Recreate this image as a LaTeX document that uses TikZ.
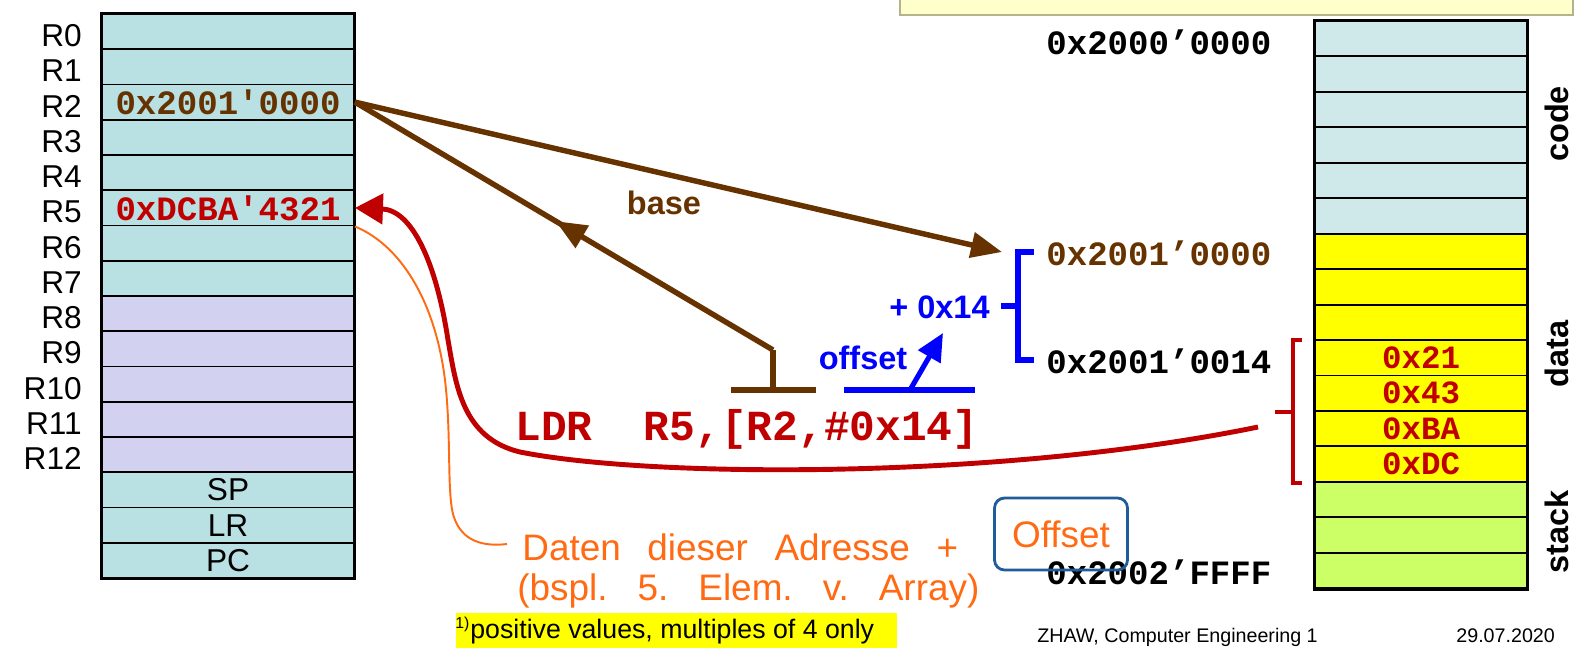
\documentclass[tikz,border=0pt]{standalone}
\usepackage{fontspec}
\setmainfont{Liberation Sans}
\setmonofont{Liberation Mono}
\newfontfamily\penfont{Liberation Sans}[WordSpace=2.6]
\usepackage{tikz}
\usetikzlibrary{positioning}
\usetikzlibrary{calc}
\usetikzlibrary{arrows.meta}
\usetikzlibrary{decorations.markings}

\definecolor{regcyan}{HTML}{B9E0E3}
\definecolor{reglila}{HTML}{D2D2F0}
\definecolor{memcode}{HTML}{CFE8E9}
\definecolor{memdata}{HTML}{FFFF00}
\definecolor{memstack}{HTML}{CCFF66}
\definecolor{basebrown}{HTML}{663300}
\definecolor{ldrred}{HTML}{C00000}
\definecolor{offblue}{HTML}{0000FF}
\definecolor{penorange}{HTML}{FF6A13}
\definecolor{penblue}{HTML}{1F5C99}
\definecolor{notefill}{HTML}{FFFFCC}
\definecolor{noteline}{HTML}{B4B48C}

\begin{document}
\begin{tikzpicture}[x=0.02cm, y=-0.02cm,
    regcell/.style={draw, line width=1.1pt, minimum width=5.04cm, minimum height=0.705cm, inner sep=0pt, font=\fontsize{18}{20}\selectfont},
    memcell/.style={draw, line width=1.1pt, minimum width=4.24cm, minimum height=0.709cm, inner sep=0pt},
    reglabel/.style={anchor=east, inner sep=0pt, font=\fontsize{18}{20}\selectfont},
    hexval/.style={inner sep=0pt, font=\ttfamily\bfseries\fontsize{19.4}{20}\selectfont},
    memval/.style={inner sep=0pt, text=ldrred, font=\ttfamily\bfseries\fontsize{18.5}{20}\selectfont},
    addr/.style={anchor=west, inner sep=0pt, font=\ttfamily\bfseries\fontsize{19.4}{20}\selectfont},
    seglabel/.style={rotate=90, inner sep=0pt, font=\bfseries\fontsize{18.5}{20}\selectfont},
    tag/.style={inner sep=0pt, font=\bfseries\fontsize{18.5}{20}\selectfont},
    brownline/.style={draw=basebrown, line width=3.1pt},
    basearrow/.style={brownline, -{Triangle[length=0.62cm, width=0.5cm]}},
    midarrow/.style={postaction={decorate}, decoration={markings,
        mark=at position 0.52 with {\arrow{Triangle[length=0.62cm, width=0.5cm]}}}},
    bluepen/.style={draw=offblue, line width=2.9pt},
    redpen/.style={draw=ldrred, line width=2.8pt},
    pen/.style={inner sep=0pt, text=penorange, font=\penfont\fontsize{21}{24}\selectfont}
]
    \useasboundingbox (0,0) rectangle (1577,648);

    % note box at the top
    \draw[fill=notefill, draw=noteline, line width=1.1pt] (900,-30) rectangle (1573,15);

    % register file
    \foreach \i in {0,...,7}
        \node[regcell, fill=regcyan] (reg\i) at (228,{14+35.25*(\i+0.5)}) {};
    \foreach \i in {8,...,12}
        \node[regcell, fill=reglila] (reg\i) at (228,{14+35.25*(\i+0.5)}) {};
    \foreach \i/\name in {13/SP,14/LR,15/PC}
        \node[regcell, fill=regcyan] (reg\i) at (228,{14+35.25*(\i+0.5)}) {\name};
    \draw[line width=1.7pt] (reg0.north west) rectangle (reg15.south east);
    \foreach \i in {0,...,12}
        \node[reglabel] (lbl\i) at ($(reg\i.west)+(-19,4)$) {R\i};

    \node[hexval, text=basebrown] (r2val) at (reg2) {0x2001'0000};
    \node[hexval, text=ldrred] (r5val) at (reg5) {0xDCBA'4321};

    % memory
    \foreach \i in {0,...,5}
        \node[memcell, fill=memcode] (mem\i) at (1421,{21+35.45*(\i+0.5)}) {};
    \foreach \i in {6,...,12}
        \node[memcell, fill=memdata] (mem\i) at (1421,{21+35.45*(\i+0.5)}) {};
    \foreach \i in {13,14,15}
        \node[memcell, fill=memstack] (mem\i) at (1421,{21+35.45*(\i+0.5)}) {};
    \draw[line width=1.7pt] (mem0.north west) rectangle (mem15.south east);
    \foreach \i/\v in {9/0x21,10/0x43,11/0xBA,12/0xDC}
        \node[memval] (val\i) at (mem\i) {\v};

    \node[seglabel] (lcode) at (1557,124) {code};
    \node[seglabel] (ldata) at (1557,354) {data};
    \node[seglabel] (lstack) at (1557,532) {stack};

    \node[addr] (a0) at (1046,42) {0x2000’0000};
    \node[addr, text=basebrown] (a1) at (1046,253) {0x2001’0000};
    \node[addr] (a2) at (1046,361) {0x2001’0014};
    \node[addr] (a3) at (1046,572) {0x2002’FFFF};

    % instruction
    \node[anchor=base west, inner sep=0pt, text=ldrred, font=\ttfamily\bfseries\fontsize{24.4}{26}\selectfont] (ldr) at (515,440) {LDR\ \ R5,[R2,\#0x14]};

    % base
    \coordinate (basetip) at (1002,252);
    \coordinate (tstem) at (773,350);
    \coordinate (tfoot) at (773,390);
    \coordinate (tleft) at (731,390);
    \coordinate (tright) at (816,390);
    \draw[basearrow] (reg2.east) -- (basetip);
    \draw[brownline, midarrow] (tstem) -- (reg2.east);
    \draw[brownline] (tleft) -- (tright) (tfoot) -- (tstem);
    \node[tag, text=basebrown] (lbase) at (664,203) {base};

    % offset
    \coordinate (oleft) at (844,390);
    \coordinate (oright) at (975,390);
    \coordinate (ofoot) at (910,390);
    \coordinate (otip) at (943,333);
    \draw[bluepen] (oleft) -- (oright);
    \draw[bluepen, -{Triangle[length=0.55cm, width=0.5cm]}] (ofoot) -- (otip);
    \node[tag, text=offblue] (loffset) at (863,358) {offset};
    \node[tag, text=offblue, anchor=east] (lplus) at (990,307) {+ 0x14};
    \draw[bluepen] (1034,252) -- (1018,252) -- (1018,360) -- (1034,360) (1018,306) -- (1001,306);

    % loaded word
    \draw[redpen] (1302,340) -- (1293,340) -- (1293,483) -- (1302,483) (1293,412) -- (1275,412);
    \coordinate (wordend) at (1258,427);
    \draw[redpen, -{Triangle[length=0.56cm, width=0.6cm]}] (wordend) .. controls (1000,480) and (650,478) .. (520,452)
        .. controls (462,438) and (456,385) .. (448,340) .. controls (436,262) and (412,210) .. (reg5.east);

    % hand-written note
    \coordinate (penend) at (507,544);
    \draw[penorange, line width=1.1pt] (reg5.south east) .. controls (400,245) and (435,300) .. (445,380)
        .. controls (452,440) and (446,500) .. (455,520) .. controls (465,545) and (490,546) .. (penend);
    \node[pen, anchor=base west] (note1) at (522,560) {Daten dieser Adresse +};
    \node[pen, anchor=base west] (note2) at (517,600) {(bspl. 5. Elem. v. Array)};
    \node[pen, draw=penblue, line width=1.6pt, rounded corners=0.2cm, minimum width=2.66cm, minimum height=1.44cm] (offnote) at (1061,534) {Offset};

    % footnote and footer
    \fill[memdata] (456,613) rectangle (897,660);
    \node[anchor=base west, inner sep=0pt, font=\fontsize{9}{10}\selectfont] (fnmark) at (455,628) {1)};
    \node[anchor=base west, inner sep=0pt, font=\fontsize{15.2}{17}\selectfont] (fntext) at (470,638) {positive values, multiples of 4 only};
    \node[anchor=north west, inner sep=0pt, font=\fontsize{11.2}{12}\selectfont] (footl) at (1037,628) {ZHAW, Computer Engineering 1};
    \node[anchor=north west, inner sep=0pt, font=\fontsize{11.2}{12}\selectfont] (footr) at (1456,628) {29.07.2020};
\end{tikzpicture}
\end{document}
